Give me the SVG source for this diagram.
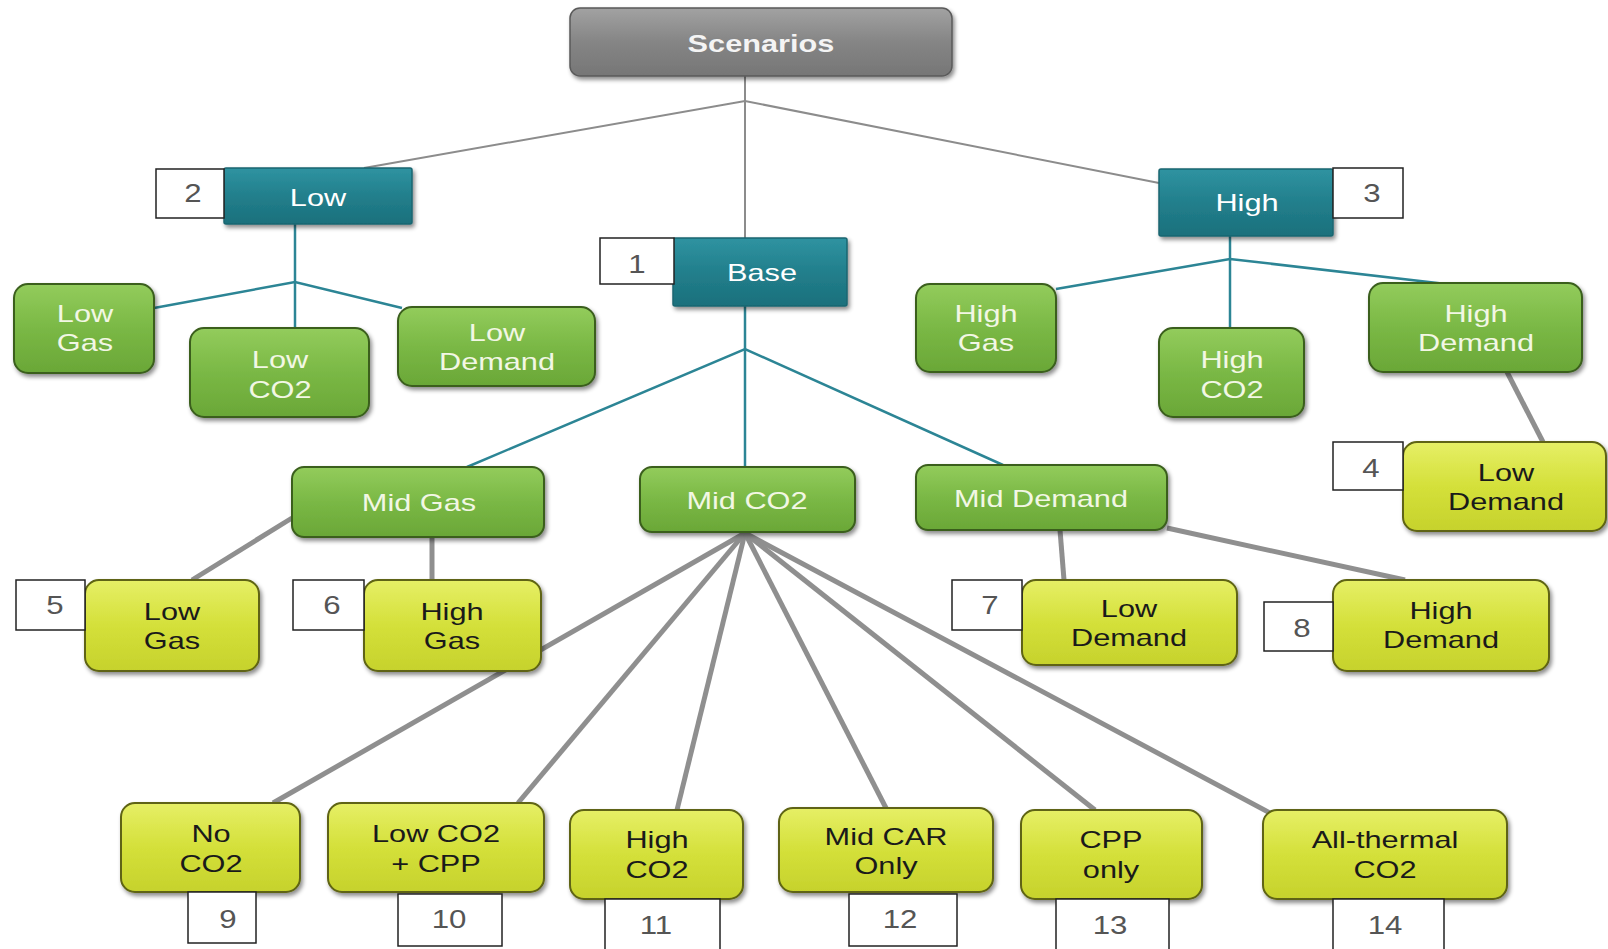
<svg xmlns="http://www.w3.org/2000/svg" width="1608" height="949" viewBox="0 0 1608 949">
<defs>
<filter id="sh" x="-10%" y="-10%" width="125%" height="135%"><feDropShadow dx="2" dy="3" stdDeviation="2" flood-color="#000" flood-opacity="0.45"/></filter>
<linearGradient id="gGray" x1="0" y1="0" x2="0" y2="1"><stop offset="0" stop-color="#a2a2a2"/><stop offset="0.5" stop-color="#858585"/><stop offset="1" stop-color="#767676"/></linearGradient>
<linearGradient id="gTeal" x1="0" y1="0" x2="0" y2="1"><stop offset="0" stop-color="#2f93a1"/><stop offset="0.5" stop-color="#227f8c"/><stop offset="1" stop-color="#1b707c"/></linearGradient>
<linearGradient id="gGreen" x1="0" y1="0" x2="0" y2="1"><stop offset="0" stop-color="#93cc5c"/><stop offset="0.5" stop-color="#7ab845"/><stop offset="1" stop-color="#6aa737"/></linearGradient>
<linearGradient id="gYel" x1="0" y1="0" x2="0" y2="1"><stop offset="0" stop-color="#e6ef66"/><stop offset="0.5" stop-color="#d4e03a"/><stop offset="1" stop-color="#c6d22c"/></linearGradient>
<style>
text{font-family:"Liberation Sans",Arial,sans-serif;font-size:24px;text-anchor:middle}
.gray rect{fill:url(#gGray);stroke:#5a5a5a;stroke-width:1.5;filter:url(#sh)}
.gray text{fill:#f4f4f4;font-weight:bold}
.teal rect{fill:url(#gTeal);stroke:#1a6570;stroke-width:1.5;filter:url(#sh)}
.teal text{fill:#ffffff}
.green rect{fill:url(#gGreen);stroke:#3a5e1e;stroke-width:2;filter:url(#sh)}
.green text{fill:#f2f7e4}
.yel rect{fill:url(#gYel);stroke:#5e6412;stroke-width:2;filter:url(#sh)}
.yel text{fill:#1a1a1a}
.num rect{fill:#ffffff;stroke:#222222;stroke-width:1.5}
.num text{fill:#555555;font-size:26px}
.c1{stroke:#8c8c8c;stroke-width:2;fill:none}
.c2{stroke:#2c8595;stroke-width:2.5;fill:none}
.c3{stroke:#8f8f8f;stroke-width:5;fill:none}
</style>
</defs>
<rect width="1608" height="949" fill="#ffffff"/>
<g id="connectors">
<polyline class="c1" points="745,76 745,238"/>
<polyline class="c1" points="364,168 745,101 1159,183"/>
<polyline class="c2" points="295,224 295,282"/>
<polyline class="c2" points="154,308 295,282 402,308"/>
<polyline class="c2" points="295,282 295,328"/>
<polyline class="c2" points="1230,236 1230,259"/>
<polyline class="c2" points="1056,289 1230,259 1446,284"/>
<polyline class="c2" points="1230,259 1230,328"/>
<polyline class="c2" points="745,306 745,349"/>
<polyline class="c2" points="467,467 745,349 1003,465"/>
<polyline class="c2" points="745,349 745,467"/>
<line class="c3" x1="1507" y1="372" x2="1543" y2="442"/>
<line class="c3" x1="292" y1="518" x2="192" y2="580"/>
<line class="c3" x1="432" y1="537" x2="432" y2="580"/>
<line class="c3" x1="1060" y1="530" x2="1064" y2="580"/>
<line class="c3" x1="1167" y1="528" x2="1405" y2="580"/>
<line class="c3" x1="745" y1="533" x2="273" y2="803"/>
<line class="c3" x1="745" y1="533" x2="518" y2="803"/>
<line class="c3" x1="745" y1="533" x2="677" y2="810"/>
<line class="c3" x1="745" y1="533" x2="887" y2="810"/>
<line class="c3" x1="745" y1="533" x2="1095" y2="810"/>
<line class="c3" x1="745" y1="533" x2="1272" y2="814"/>
</g>
<g id="n-scenarios" class="gray"><rect x="570" y="8" width="382" height="68" rx="10"/><text transform="translate(761 52) scale(1.28 1)">Scenarios</text></g>
<g id="n-low" class="teal"><rect x="224" y="168" width="188" height="56" rx="2"/><text transform="translate(318 206) scale(1.28 1)">Low</text></g>
<g id="b2" class="num"><rect x="156" y="169" width="68" height="49"/><text transform="translate(193 202) scale(1.2 1)">2</text></g>
<g id="n-high" class="teal"><rect x="1159" y="169" width="174" height="67" rx="2"/><text transform="translate(1247 211) scale(1.28 1)">High</text></g>
<g id="b3" class="num"><rect x="1333" y="168" width="70" height="50"/><text transform="translate(1372 202) scale(1.2 1)">3</text></g>
<g id="n-base" class="teal"><rect x="673" y="238" width="174" height="68" rx="2"/><text transform="translate(762 281) scale(1.28 1)">Base</text></g>
<g id="b1" class="num"><rect x="600" y="238" width="74" height="46"/><text transform="translate(637 273) scale(1.2 1)">1</text></g>
<g id="n-lowgas" class="green"><rect x="14" y="284" width="140" height="89" rx="14"/><text transform="translate(85 322) scale(1.28 1)"><tspan x="0">Low</tspan><tspan x="0" dy="29">Gas</tspan></text></g>
<g id="n-lowco2" class="green"><rect x="190" y="328" width="179" height="89" rx="14"/><text transform="translate(280 368) scale(1.28 1)"><tspan x="0">Low</tspan><tspan x="0" dy="30">CO2</tspan></text></g>
<g id="n-lowdemand" class="green"><rect x="398" y="307" width="197" height="79" rx="14"/><text transform="translate(497 341) scale(1.28 1)"><tspan x="0">Low</tspan><tspan x="0" dy="29">Demand</tspan></text></g>
<g id="n-highgas" class="green"><rect x="916" y="284" width="140" height="88" rx="14"/><text transform="translate(986 322) scale(1.28 1)"><tspan x="0">High</tspan><tspan x="0" dy="29">Gas</tspan></text></g>
<g id="n-highco2" class="green"><rect x="1159" y="328" width="145" height="89" rx="14"/><text transform="translate(1232 368) scale(1.28 1)"><tspan x="0">High</tspan><tspan x="0" dy="30">CO2</tspan></text></g>
<g id="n-highdemand" class="green"><rect x="1369" y="283" width="213" height="89" rx="14"/><text transform="translate(1476 322) scale(1.28 1)"><tspan x="0">High</tspan><tspan x="0" dy="29">Demand</tspan></text></g>
<g id="n-midgas" class="green"><rect x="292" y="467" width="252" height="70" rx="12"/><text transform="translate(419 511) scale(1.28 1)">Mid Gas</text></g>
<g id="n-midco2" class="green"><rect x="640" y="467" width="215" height="65" rx="12"/><text transform="translate(747 509) scale(1.28 1)">Mid CO2</text></g>
<g id="n-middemand" class="green"><rect x="916" y="465" width="251" height="65" rx="12"/><text transform="translate(1041 507) scale(1.28 1)">Mid Demand</text></g>
<g id="n4" class="yel"><rect x="1403" y="442" width="203" height="89" rx="14"/><text transform="translate(1506 481) scale(1.28 1)"><tspan x="0">Low</tspan><tspan x="0" dy="29">Demand</tspan></text></g>
<g id="b4" class="num"><rect x="1333" y="442" width="70" height="48"/><text transform="translate(1371 477) scale(1.2 1)">4</text></g>
<g id="n5" class="yel"><rect x="85" y="580" width="174" height="91" rx="14"/><text transform="translate(172 620) scale(1.28 1)"><tspan x="0">Low</tspan><tspan x="0" dy="29">Gas</tspan></text></g>
<g id="b5" class="num"><rect x="16" y="580" width="69" height="50"/><text transform="translate(55 614) scale(1.2 1)">5</text></g>
<g id="n6" class="yel"><rect x="364" y="580" width="177" height="91" rx="14"/><text transform="translate(452 620) scale(1.28 1)"><tspan x="0">High</tspan><tspan x="0" dy="29">Gas</tspan></text></g>
<g id="b6" class="num"><rect x="293" y="580" width="71" height="50"/><text transform="translate(332 614) scale(1.2 1)">6</text></g>
<g id="n7" class="yel"><rect x="1022" y="580" width="215" height="85" rx="14"/><text transform="translate(1129 617) scale(1.28 1)"><tspan x="0">Low</tspan><tspan x="0" dy="29">Demand</tspan></text></g>
<g id="b7" class="num"><rect x="952" y="580" width="70" height="50"/><text transform="translate(990 614) scale(1.2 1)">7</text></g>
<g id="n8" class="yel"><rect x="1333" y="580" width="216" height="91" rx="14"/><text transform="translate(1441 619) scale(1.28 1)"><tspan x="0">High</tspan><tspan x="0" dy="29">Demand</tspan></text></g>
<g id="b8" class="num"><rect x="1264" y="602" width="69" height="49"/><text transform="translate(1302 637) scale(1.2 1)">8</text></g>
<g id="n9" class="yel"><rect x="121" y="803" width="179" height="89" rx="14"/><text transform="translate(211 842) scale(1.28 1)"><tspan x="0">No</tspan><tspan x="0" dy="30">CO2</tspan></text></g>
<g id="b9" class="num"><rect x="188" y="892" width="68" height="51"/><text transform="translate(228 928) scale(1.2 1)">9</text></g>
<g id="n10" class="yel"><rect x="328" y="803" width="216" height="89" rx="14"/><text transform="translate(436 842) scale(1.28 1)"><tspan x="0">Low CO2</tspan><tspan x="0" dy="30">+ CPP</tspan></text></g>
<g id="b10" class="num"><rect x="398" y="894" width="104" height="52"/><text transform="translate(449 928) scale(1.2 1)">10</text></g>
<g id="n11" class="yel"><rect x="570" y="810" width="173" height="89" rx="14"/><text transform="translate(657 848) scale(1.28 1)"><tspan x="0">High</tspan><tspan x="0" dy="30">CO2</tspan></text></g>
<g id="b11" class="num"><rect x="605" y="899" width="115" height="52"/><text transform="translate(656 934) scale(1.2 1)">11</text></g>
<g id="n12" class="yel"><rect x="779" y="808" width="214" height="84" rx="14"/><text transform="translate(886 845) scale(1.28 1)"><tspan x="0">Mid CAR</tspan><tspan x="0" dy="29">Only</tspan></text></g>
<g id="b12" class="num"><rect x="849" y="894" width="108" height="52"/><text transform="translate(900 928) scale(1.2 1)">12</text></g>
<g id="n13" class="yel"><rect x="1021" y="810" width="181" height="89" rx="14"/><text transform="translate(1111 848) scale(1.28 1)"><tspan x="0">CPP</tspan><tspan x="0" dy="30">only</tspan></text></g>
<g id="b13" class="num"><rect x="1056" y="899" width="113" height="52"/><text transform="translate(1110 934) scale(1.2 1)">13</text></g>
<g id="n14" class="yel"><rect x="1263" y="810" width="244" height="89" rx="14"/><text transform="translate(1385 848) scale(1.28 1)"><tspan x="0">All-thermal</tspan><tspan x="0" dy="30">CO2</tspan></text></g>
<g id="b14" class="num"><rect x="1333" y="899" width="111" height="52"/><text transform="translate(1385 934) scale(1.2 1)">14</text></g>
</svg>
